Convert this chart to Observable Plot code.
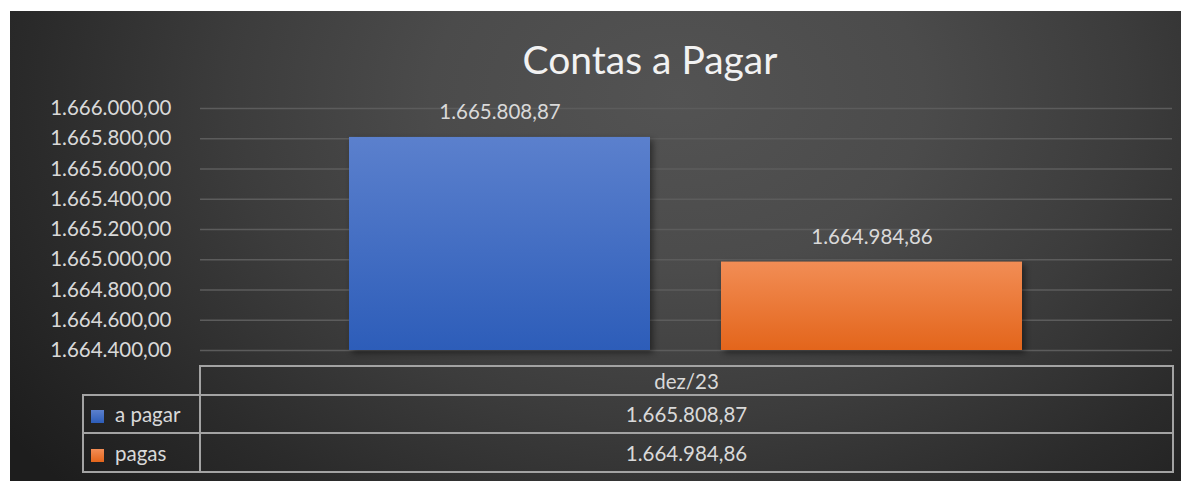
<!DOCTYPE html>
<html><head><meta charset="utf-8">
<script src="https://cdn.jsdelivr.net/npm/d3@7"></script>
<script src="https://cdn.jsdelivr.net/npm/@observablehq/plot@0.6"></script>
<style>
html,body{margin:0;padding:0;background:#fff;}
#chart{position:absolute;left:10px;top:11px;width:1171px;height:470px;overflow:hidden;
 background: radial-gradient(ellipse 70% 125% at 57% 18%, #535353 0%, #4b4b4b 30%, #3c3c3c 55%, #2b2b2b 78%, #1d1d1d 100%);
 font-family: Lato, "Open Sans", sans-serif;}
#title{position:absolute;left:640px;top:26px;transform:translateX(-50%);white-space:nowrap;
 color:#f2f2f2;font-size:39px;line-height:44px;}
#plot{position:absolute;left:0;top:69px;}
#tbl{position:absolute;left:72px;top:354px;border-collapse:collapse;color:#d9d9d9;font-size:20.5px;}
#tbl td{border:2px solid #a3a3a3;padding:0;text-align:center;}
#tbl td.blank{border:none;}
#tbl td.leg{text-align:left;padding-left:7px;width:108px;}
#tbl .sw{display:inline-block;width:13px;height:13px;margin-right:11px;vertical-align:-1px;}
</style>
</head><body>
<div id="chart">
  <div id="title"></div>
  <div id="plot"></div>
  <table id="tbl"></table>
</div>
<script>
const titleText = "Contas a Pagar";
const categories = ["dez/23"];
const seriesNames = ["a pagar", "pagas"];
const seriesValues = [1665808.87, 1664984.86];
const yTicks = [1664400, 1664600, 1664800, 1665000, 1665200, 1665400, 1665600, 1665800, 1666000];
const yMin = 1664400, yMax = 1666000;
const gradTop = ["#5b80cd", "#f28d55"];
const gradBottom = ["#2d5db9", "#e3651b"];

const fmt = d3.formatLocale({decimal: ",", thousands: ".", grouping: [3], currency: ["R$", ""]}).format(",.2f");

const data = seriesNames.map((s, i) => ({series: s, value: seriesValues[i], category: categories[0], grad: `url(#grad${i})`}));

document.getElementById("title").textContent = titleText;

const plot = Plot.plot({
  width: 1171,
  height: 284,
  marginLeft: 190,
  marginRight: 9,
  marginTop: 28,
  marginBottom: 14,
  style: {background: "transparent", color: "#d9d9d9", fontFamily: "Lato, 'Open Sans', sans-serif", fontSize: "20.5px"},
  x: {domain: seriesNames, paddingInner: 0.19, paddingOuter: 0.4, axis: null},
  y: {domain: [yMin, yMax], axis: null},
  color: {type: "identity"},
  marks: [
    Plot.gridY(yTicks, {stroke: "#5c5c5c", strokeOpacity: 1, strokeWidth: 1.5}),
    Plot.axisY(yTicks, {tickFormat: fmt, tickSize: 0, tickPadding: 29, fill: "#d9d9d9", fontSize: 20.5, label: null}),
    Plot.barY(data, {x: "series", y1: yMin, y2: "value", fill: "grad"}),
    Plot.text(data, {x: "series", y: "value", text: d => fmt(d.value), dy: -25, fill: "#d9d9d9", fontSize: 20.5})
  ]
});
plot.insertAdjacentHTML("afterbegin",
  "<defs>" + seriesNames.map((s, i) =>
    `<linearGradient id="grad${i}" x1="0" y1="0" x2="0" y2="1"><stop offset="0" stop-color="${gradTop[i]}"/><stop offset="1" stop-color="${gradBottom[i]}"/></linearGradient>`).join("") + "</defs>");
const barG = plot.querySelector('g[aria-label="bar"]');
if (barG) barG.style.filter = "drop-shadow(3px 3px 3px rgba(0,0,0,0.45))";
document.getElementById("plot").appendChild(plot);

// data table
const tbl = document.getElementById("tbl");
let html = `<tr style="height:29px"><td class="blank" style="width:115px"></td>` +
  categories.map(c => `<td style="width:971px">${c}</td>`).join("") + `</tr>`;
seriesNames.forEach((s, i) => {
  html += `<tr style="height:${i === 0 ? 38 : 39}px"><td class="leg"><span class="sw" style="background:linear-gradient(${gradTop[i]},${gradBottom[i]})"></span>${s}</td>` +
    categories.map(() => `<td>${fmt(seriesValues[i])}</td>`).join("") + `</tr>`;
});
tbl.innerHTML = html;
</script>
</body></html>
